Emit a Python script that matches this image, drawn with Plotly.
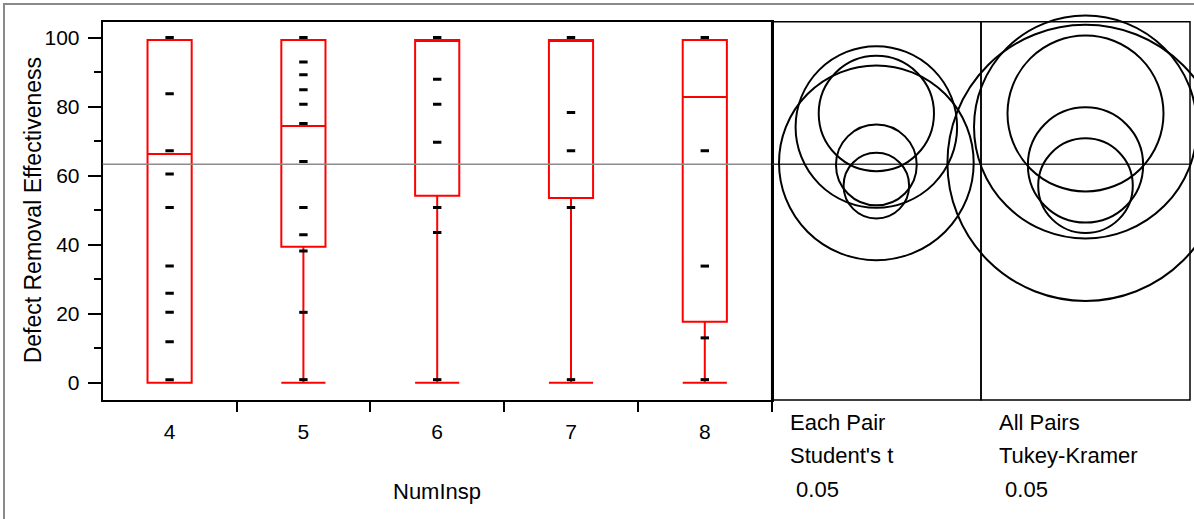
import plotly.graph_objects as go

# ---------------- data ----------------
categories = [4, 5, 6, 7, 8]
tick_labels = ["4", "5", "6", "7", "8"]

q1 = [0.0, 39.4, 54.2, 53.5, 17.7]
median = [66.3, 74.4, 99.3, 99.3, 82.8]
q3 = [99.3, 99.3, 99.3, 99.3, 99.3]
lower_fence = [0.0, 0.0, 0.0, 0.0, 0.0]
upper_fence = [99.3, 99.3, 99.3, 99.3, 99.3]

points_4 = [100, 83.7, 67.2, 60.5, 50.8, 33.8, 25.9, 20.4, 11.9, 0.9]
points_5 = [100, 92.9, 89.2, 84.9, 80.7, 75.1, 64.1, 50.8, 42.9, 38.2, 20.4, 0.9]
points_6 = [100, 87.9, 80.7, 69.7, 50.8, 43.5, 0.9]
points_7 = [100, 78.3, 67.2, 50.8, 0.9]
points_8 = [100, 67.2, 33.8, 13.0, 0.9]

grand_mean = 63.3

circle_means = [57.1, 63.1, 63.7, 74.1, 78.0]
student_radius = [9.5, 11.7, 28.2, 23.4, 16.7]
tukey_radius = [13.7, 16.7, 40.0, 32.3, 22.6]

panel_labels_left = ["Each Pair", "Student's t", " 0.05"]
panel_labels_right = ["All Pairs", "Tukey-Kramer", " 0.05"]

y_title = "Defect Removal Effectiveness"
x_title = "NumInsp"

# ---------------- layout geometry (pixels) ----------------
W, H = 1194, 519
L, R_BOX, MID, R_END = 102.7, 771.7, 981.0, 1190.0
T, B = 21.7, 400.0
Y_RANGE = [-5.0, 104.6]
s = (B - T) / (Y_RANGE[1] - Y_RANGE[0])  # px per data unit
y2_range = [Y_RANGE[0] - (H - B) / s, Y_RANGE[1] + T / s]
x2_range = [0, (W - R_BOX) / s]
cx_left = ((R_BOX + MID) / 2 - R_BOX) / s
cx_right = ((MID + R_END) / 2 - R_BOX) / s

def px(x):
    return x / W

def py(y):
    return 1 - y / H

FONT = "Liberation Sans, Arial, sans-serif"
TXT = 22

fig = go.Figure()

fig.add_trace(go.Box(
    x=categories, q1=q1, median=median, q3=q3,
    lowerfence=lower_fence, upperfence=upper_fence,
    width=0.33, whiskerwidth=1,
    line=dict(color="#ff0000", width=2),
    fillcolor="rgba(0,0,0,0)", boxpoints=False,
    showlegend=False, hoverinfo="skip",
))

for cat, pts in zip(categories, [points_4, points_5, points_6, points_7, points_8]):
    fig.add_trace(go.Scatter(
        x=[cat] * len(pts), y=pts, mode="markers",
        marker=dict(symbol="line-ew", size=6, line=dict(width=3, color="black")),
        showlegend=False, hoverinfo="skip",
    ))

# placeholder trace to create the circle subplot
fig.add_trace(go.Scatter(x=[cx_left, cx_right], y=[grand_mean, grand_mean],
                         mode="markers", marker=dict(opacity=0),
                         xaxis="x2", yaxis="y2", showlegend=False, hoverinfo="skip"))

shapes = []
# outer gray frame
shapes.append(dict(type="rect", xref="paper", yref="paper",
                   x0=px(4), x1=1.2, y0=-0.2, y1=py(4),
                   line=dict(color="#8a8a8a", width=2)))
# grand mean line
shapes.append(dict(type="line", xref="paper", yref="y",
                   x0=px(L), x1=px(R_BOX), y0=grand_mean, y1=grand_mean,
                   line=dict(color="#8c8c8c", width=1.5)))
shapes.append(dict(type="line", xref="paper", yref="y",
                   x0=px(R_BOX), x1=px(R_END), y0=grand_mean, y1=grand_mean,
                   line=dict(color="#333333", width=1.5)))
# comparison panels
for a, b in [(R_BOX, MID), (MID, R_END)]:
    shapes.append(dict(type="rect", xref="paper", yref="paper",
                       x0=px(a), x1=px(b), y0=py(B), y1=py(T),
                       line=dict(color="black", width=1.5)))
# circles
for m, rs, rt in zip(circle_means, student_radius, tukey_radius):
    shapes.append(dict(type="circle", xref="x2", yref="y2",
                       x0=cx_left - rs, x1=cx_left + rs, y0=m - rs, y1=m + rs,
                       line=dict(color="black", width=2)))
    shapes.append(dict(type="circle", xref="x2", yref="y2",
                       x0=cx_right - rt, x1=cx_right + rt, y0=m - rt, y1=m + rt,
                       line=dict(color="black", width=2)))

annotations = []
annotations.append(dict(text=y_title, xref="paper", yref="paper",
                        x=px(32.5), y=py((T + B) / 2), textangle=-90,
                        showarrow=False, xanchor="center", yanchor="middle",
                        font=dict(family=FONT, size=23, color="black")))
annotations.append(dict(text=x_title, xref="paper", yref="paper",
                        x=px((L + R_BOX) / 2), y=py(491), showarrow=False,
                        xanchor="center", yanchor="middle",
                        font=dict(family=FONT, size=TXT, color="black")))
for i, (tl, tr) in enumerate(zip(panel_labels_left, panel_labels_right)):
    yy = py(422 + 33.5 * i)
    annotations.append(dict(text=tl.replace(" ", "&nbsp;"), xref="paper", yref="paper",
                            x=px(788), y=yy, showarrow=False,
                            xanchor="left", yanchor="middle",
                            font=dict(family=FONT, size=TXT, color="black")))
    annotations.append(dict(text=tr.replace(" ", "&nbsp;"), xref="paper", yref="paper",
                            x=px(996.5), y=yy, showarrow=False,
                            xanchor="left", yanchor="middle",
                            font=dict(family=FONT, size=TXT, color="black")))

fig.update_layout(
    width=W, height=H,
    margin=dict(l=0, r=0, t=0, b=0),
    paper_bgcolor="white", plot_bgcolor="white",
    font=dict(family=FONT, size=21, color="black"),
    shapes=shapes, annotations=annotations,
    xaxis=dict(domain=[px(L), px(R_BOX)], range=[3.5, 8.5], anchor="y",
               tickmode="array", tickvals=categories, ticktext=tick_labels,
               ticks="outside", ticklen=12, tickcolor="rgba(0,0,0,0)",
               minor=dict(tickmode="array", tickvals=[4.5, 5.5, 6.5, 7.5, 8.5],
                          ticks="outside", ticklen=10, tickwidth=1.5, tickcolor="black"),
               showline=True, linecolor="black", linewidth=2, mirror=True,
               showgrid=False, zeroline=False,
               tickfont=dict(family=FONT, size=21, color="black")),
    yaxis=dict(domain=[py(B), py(T)], range=Y_RANGE, anchor="x",
               tickmode="array", tickvals=[0, 20, 40, 60, 80, 100],
               ticks="outside", ticklen=13, tickwidth=1.5, tickcolor="black",
               ticklabelstandoff=4,
               minor=dict(tickmode="array", tickvals=[10, 30, 50, 70, 90],
                          ticks="outside", ticklen=7, tickwidth=1.5, tickcolor="black"),
               showline=True, linecolor="black", linewidth=2, mirror=True,
               showgrid=False, zeroline=False,
               tickfont=dict(family=FONT, size=21, color="black")),
    xaxis2=dict(domain=[px(R_BOX), 1], range=x2_range, anchor="y2", visible=False),
    yaxis2=dict(domain=[0, 1], range=y2_range, anchor="x2", visible=False),
)

fig.write_html("out.html", config={"displayModeBar": False},
               post_script="document.body.style.margin='0';document.body.style.overflow='hidden';")
